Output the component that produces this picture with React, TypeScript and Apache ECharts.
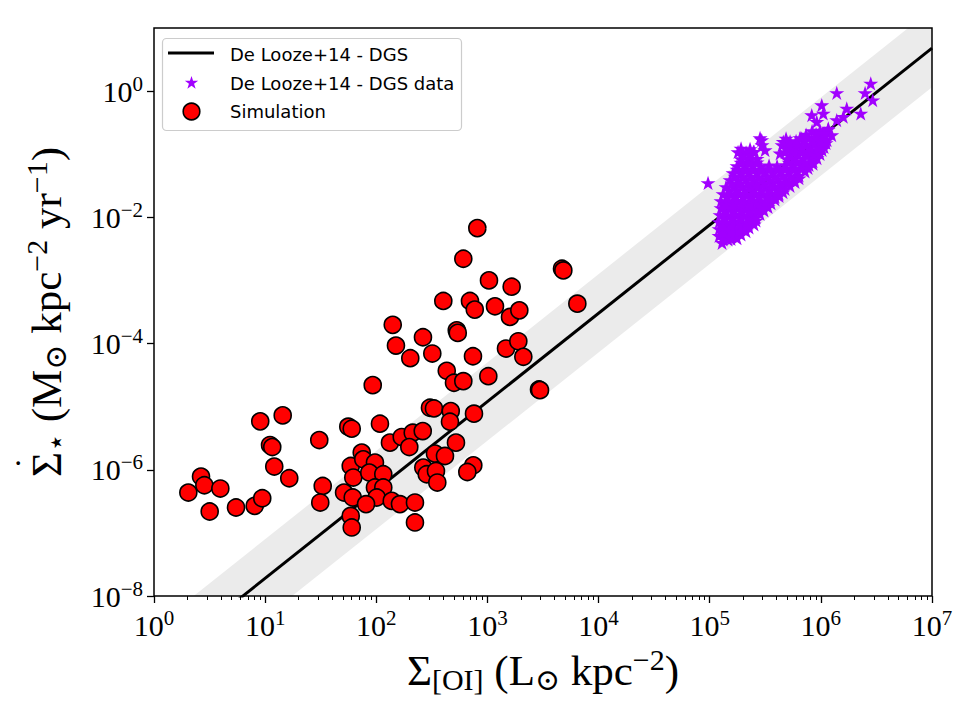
import React, { useEffect, useRef } from 'react';
import * as echarts from 'echarts';

// Axis decades (log10 units)
const xTickExponents = [0, 1, 2, 3, 4, 5, 6, 7];
const yTickExponents = [-8, -6, -4, -2, 0];
const xRange = [0, 7];
const yRange = [-8, 1];

// De Looze+14 (DGS) [OI] relation in log10 space, with its 1-sigma scatter
const fitSlope = 1.4;
const fitIntercept = -9.12;
const fitScatter = 0.62;

// Simulation: [log10 Σ_[OI], log10 Σ̇⋆]
const simulationPoints: [number, number][] = [
  [0.956, -5.233], [1.158, -5.138], [1.044, -5.608], [1.064, -5.64], [1.487, -5.529],
  [1.082, -5.949], [1.217, -6.134], [0.423, -6.108], [0.453, -6.245], [0.309, -6.361],
  [0.597, -6.297], [0.501, -6.661], [0.738, -6.598], [0.906, -6.572], [0.974, -6.451],
  [1.518, -6.256], [1.496, -6.519], [1.71, -6.361], [1.748, -5.317], [1.779, -5.349],
  [2.909, -2.171], [2.783, -2.656], [3.671, -2.814], [3.683, -2.841], [3.014, -2.999],
  [3.218, -3.099], [2.603, -3.325], [2.843, -3.325], [2.886, -3.462], [3.068, -3.41],
  [3.203, -3.578], [3.287, -3.474], [3.809, -3.368], [2.148, -3.704], [2.177, -4.032],
  [2.306, -4.232], [2.42, -3.9], [2.504, -4.158], [2.724, -3.79], [2.733, -3.831],
  [2.87, -4.201], [3.167, -4.079], [3.278, -3.964], [3.323, -4.21], [2.634, -4.432],
  [2.699, -4.621], [2.783, -4.596], [3.008, -4.517], [1.968, -4.659], [3.464, -4.727],
  [3.473, -4.738], [2.483, -5.017], [2.519, -5.028], [2.67, -5.07], [2.663, -5.238],
  [2.033, -5.27], [2.123, -5.57], [2.229, -5.481], [2.328, -5.412], [2.418, -5.387],
  [2.297, -5.64], [2.717, -5.57], [2.528, -5.744], [2.618, -5.782], [2.423, -5.965],
  [2.454, -6.071], [2.537, -6.019], [2.549, -6.202], [1.869, -5.728], [1.77, -5.94],
  [1.883, -5.834], [1.988, -5.886], [1.793, -6.123], [1.937, -6.044], [2.063, -6.071],
  [1.788, -6.439], [1.988, -6.281], [2.063, -6.281], [2.004, -6.439], [1.908, -6.545],
  [2.139, -6.493], [2.213, -6.545], [2.348, -6.519], [1.77, -6.731], [1.779, -6.914],
  [2.348, -6.835], [2.879, -5.111], [2.873, -5.929], [2.819, -6.035],
];

// DGS resolved data: [log10 Σ_[OI], log10 Σ̇⋆]
const dgsPoints: [number, number][] = [
  [5.111, -2.403], [5.165, -2.35],
  [5.084, -2.292], [5.156, -2.3], [5.228, -2.285], [5.282, -2.27],
  [5.084, -2.182], [5.156, -2.19], [5.228, -2.175], [5.3, -2.185], [5.354, -2.16],
  [5.084, -2.071], [5.156, -2.08], [5.228, -2.065], [5.3, -2.075], [5.372, -2.06], [5.417, -2.05],
  [5.093, -1.96], [5.165, -1.97], [5.237, -1.955], [5.309, -1.965], [5.381, -1.95], [5.453, -1.945],
  [5.102, -1.85], [5.174, -1.855], [5.246, -1.845], [5.318, -1.86], [5.39, -1.84], [5.462, -1.85], [5.525, -1.835],
  [5.102, -1.739], [5.174, -1.745], [5.246, -1.735], [5.318, -1.75], [5.39, -1.73], [5.462, -1.74], [5.534, -1.725], [5.588, -1.715],
  [5.12, -1.628], [5.192, -1.635], [5.264, -1.625], [5.336, -1.64], [5.408, -1.62], [5.48, -1.63], [5.552, -1.615], [5.624, -1.625], [5.66, -1.6],
  [5.147, -1.518], [5.219, -1.525], [5.291, -1.515], [5.363, -1.53], [5.435, -1.51], [5.507, -1.52], [5.579, -1.505], [5.651, -1.515], [5.723, -1.5],
  [5.183, -1.407], [5.255, -1.415], [5.327, -1.4], [5.399, -1.42], [5.471, -1.405], [5.543, -1.41], [5.615, -1.395], [5.687, -1.405], [5.759, -1.39], [5.804, -1.38],
  [5.21, -1.296], [5.282, -1.305], [5.354, -1.29], [5.426, -1.3], [5.498, -1.285], [5.57, -1.295], [5.642, -1.28], [5.714, -1.29], [5.786, -1.275], [5.858, -1.27],
  [5.246, -1.186], [5.318, -1.195], [5.39, -1.18], [5.462, -1.19], [5.534, -1.175], [5.606, -1.185], [5.678, -1.17], [5.75, -1.18], [5.822, -1.165], [5.894, -1.17], [5.93, -1.15],
  [5.282, -1.075], [5.354, -1.08], [5.426, -1.07], [5.696, -1.075], [5.768, -1.065], [5.84, -1.07], [5.912, -1.055], [5.966, -1.06],
  [5.255, -0.964], [5.327, -0.97], [5.399, -0.96], [5.678, -0.964], [5.75, -0.955], [5.822, -0.96], [5.894, -0.95], [5.966, -0.945], [6.011, -0.93],
  [5.471, -0.854], [5.651, -0.854], [5.723, -0.845], [5.795, -0.85], [5.867, -0.84], [5.939, -0.845], [6.002, -0.83], [6.047, -0.82],
  [5.453, -0.743], [5.687, -0.75], [5.813, -0.743], [5.885, -0.735], [5.957, -0.74], [6.029, -0.725],
  [5.921, -0.632], [5.993, -0.625], [6.065, -0.61],
  [4.985, -1.455],
  [6.449, 0.122], [6.398, -0.027], [6.467, -0.142], [6.143, -0.027], [6.008, -0.221],
  [6.233, -0.274], [6.359, -0.353], [5.918, -0.379], [6.022, -0.353], [5.963, -0.485],
  [6.143, -0.458], [6.202, -0.406], [6.067, -0.59], [6.098, -0.696], [6.022, -0.696],
  [5.468, -0.775], [5.498, -0.933], [5.393, -0.96], [5.302, -0.985], [5.662, -0.802],
  [5.828, -0.748], [5.918, -0.775], [5.873, -0.985], [5.993, -0.881], [5.752, -0.933],
  [5.633, -0.985],
  [5.12, -2.348], [5.192, -2.34], [5.246, -2.33],
  [5.12, -2.237], [5.192, -2.245], [5.264, -2.23], [5.327, -2.22],
  [5.12, -2.126], [5.192, -2.135], [5.264, -2.12], [5.336, -2.13], [5.399, -2.11],
  [5.129, -2.016], [5.201, -2.025], [5.273, -2.01], [5.345, -2.02], [5.417, -2.0],
  [5.138, -1.905], [5.21, -1.91], [5.282, -1.9], [5.354, -1.915], [5.426, -1.895], [5.489, -1.89],
  [5.138, -1.794], [5.21, -1.8], [5.282, -1.79], [5.354, -1.805], [5.426, -1.785], [5.498, -1.795], [5.552, -1.775],
  [5.156, -1.684], [5.228, -1.69], [5.3, -1.68], [5.372, -1.695], [5.444, -1.675], [5.516, -1.685], [5.588, -1.67], [5.624, -1.66],
  [5.174, -1.573], [5.246, -1.58], [5.318, -1.57], [5.39, -1.585], [5.462, -1.565], [5.534, -1.575], [5.606, -1.56], [5.678, -1.55],
  [5.201, -1.462], [5.273, -1.47], [5.345, -1.46], [5.417, -1.475], [5.489, -1.455], [5.561, -1.465], [5.633, -1.45], [5.705, -1.46], [5.768, -1.44],
  [5.228, -1.352], [5.3, -1.36], [5.372, -1.35], [5.444, -1.365], [5.516, -1.345], [5.588, -1.355], [5.66, -1.34], [5.732, -1.35], [5.804, -1.335],
  [5.246, -1.241], [5.318, -1.25], [5.39, -1.24], [5.462, -1.255], [5.534, -1.235], [5.606, -1.245], [5.678, -1.23], [5.75, -1.24], [5.822, -1.225], [5.885, -1.215],
  [5.282, -1.13], [5.354, -1.14], [5.426, -1.125], [5.714, -1.13], [5.786, -1.12], [5.858, -1.125], [5.93, -1.11],
  [5.291, -1.02], [5.363, -1.025], [5.723, -1.02], [5.795, -1.01], [5.867, -1.015], [5.939, -1.0], [5.993, -0.995],
  [5.282, -0.909], [5.363, -0.915], [5.687, -0.909], [5.759, -0.9], [5.831, -0.905], [5.903, -0.895], [5.975, -0.9], [6.029, -0.885],
  [5.723, -0.798], [5.777, -0.79], [5.849, -0.795], [5.921, -0.785], [5.993, -0.79], [6.056, -0.775],
  [5.867, -0.688], [5.957, -0.68], [6.029, -0.67],
];

const legendLabels = ['De Looze+14 - DGS', 'De Looze+14 - DGS data', 'Simulation'];

const STAR_COLOR = '#a100ff';
const SIM_COLOR = '#ff0000';
const STAR_PATH =
  'path://M100 0 L122.45 69.1 L195.11 69.1 L136.33 111.8 L158.78 180.9 L100 138.2 L41.22 180.9 L63.67 111.8 L4.89 69.1 L77.55 69.1 Z';

const SERIF = "'Liberation Serif', 'DejaVu Serif', serif";
const SANS = "'DejaVu Sans', sans-serif";

// minor ticks at 2..9 x 10^d
const minorTicks: number[] = [];
for (let d = xRange[0]; d < xRange[1]; d++) {
  for (let k = 2; k <= 9; k++) minorTicks.push(d + Math.log10(k));
}

function starPoints(cx: number, cy: number, r: number): number[][] {
  const pts: number[][] = [];
  for (let i = 0; i < 10; i++) {
    const a = (i * Math.PI) / 5;
    const rr = i % 2 === 0 ? r : r * 0.382;
    pts.push([cx + rr * Math.sin(a), cy - rr * Math.cos(a)]);
  }
  return pts;
}

const powLabel = (v: number) => {
  const e = Math.round(v);
  return `{b|10}{e|${e < 0 ? '\u2212' + -e : e}}`;
};

const tickRich = {
  b: { fontFamily: SERIF, fontSize: 30, color: '#000' },
  e: { fontFamily: SERIF, fontSize: 21, color: '#000', padding: [0, 0, 15, 0] },
};

const titleRich = {
  m: { fontFamily: SERIF, fontSize: 43, color: '#000' },
  // time-derivative dot, sitting over the leading Σ
  dot: { fontFamily: SANS, fontSize: 13, color: '#000', align: 'left', lineHeight: 6, padding: [0, 0, 0, 10] },
  sub: { fontFamily: SERIF, fontSize: 30, color: '#000', padding: [18, 0, 0, 0] },
  sup: { fontFamily: SERIF, fontSize: 30, color: '#000', padding: [0, 0, 21, 0] },
};

export default function App() {
  const ref = useRef<HTMLDivElement>(null);

  useEffect(() => {
    if (!ref.current) return;
    const chart = echarts.init(ref.current, undefined, { renderer: 'svg' });

    const lineData = xRange.map((x) => [x, fitSlope * x + fitIntercept]);

    const option: any = {
      animation: false,
      backgroundColor: '#ffffff',
      grid: {
        left: 154,
        right: 28,
        top: 28,
        bottom: 124,
        outerBoundsMode: 'none',
        containLabel: false,
        show: true,
        borderColor: '#000',
        borderWidth: 1.5,
        backgroundColor: 'transparent',
        z: 10,
      },
      xAxis: [
        {
          type: 'value',
          min: xRange[0],
          max: xRange[1],
          interval: 1,
          axisLine: { show: false, onZero: false },
          splitLine: { show: false },
          axisTick: { show: true, length: 7, lineStyle: { color: '#000', width: 1.3 } },
          axisLabel: { margin: 11, formatter: powLabel, rich: tickRich },
          name: '{m|\u03a3}{sub|[OI]}{m| (L}{sub|\u2299}{m| kpc}{sup|\u22122}{m|)}',
          nameLocation: 'middle',
          nameGap: 38,
          nameTextStyle: { rich: titleRich },
        },
        {
          type: 'value',
          min: xRange[0],
          max: xRange[1],
          position: 'bottom',
          axisLine: { show: false, onZero: false },
          splitLine: { show: false },
          axisLabel: { show: false },
          axisTick: {
            show: true,
            length: 4,
            customValues: minorTicks,
            lineStyle: { color: '#000', width: 1 },
          },
        },
      ],
      yAxis: {
        type: 'value',
        min: yRange[0],
        max: yRange[1],
        axisLine: { show: false, onZero: false },
        splitLine: { show: false },
        axisTick: {
          show: true,
          length: 7,
          customValues: yTickExponents,
          lineStyle: { color: '#000', width: 1.3 },
        },
        axisLabel: {
          margin: 11,
          customValues: yTickExponents,
          formatter: powLabel,
          rich: tickRich,
        },
        name:
          '{dot|\u2022}\n{m|\u03a3}{sub|\u22c6}{m| (M}{sub|\u2299}{m| kpc}{sup|\u22122}{m| yr}{sup|\u22121}{m|)}',
        nameLocation: 'middle',
        nameRotate: 90,
        nameGap: 82,
        nameTextStyle: { rich: titleRich },
      },
      series: [
        {
          type: 'custom',
          coordinateSystem: 'cartesian2d',
          xAxisIndex: 0,
          yAxisIndex: 0,
          silent: true,
          z: 1,
          data: [[xRange[0], fitIntercept]],
          renderItem: (params: any, api: any) => {
            const pts = [
              api.coord([xRange[0], fitSlope * xRange[0] + fitIntercept + fitScatter]),
              api.coord([xRange[1], fitSlope * xRange[1] + fitIntercept + fitScatter]),
              api.coord([xRange[1], fitSlope * xRange[1] + fitIntercept - fitScatter]),
              api.coord([xRange[0], fitSlope * xRange[0] + fitIntercept - fitScatter]),
            ];
            const cs = params.coordSys;
            return {
              type: 'polygon',
              shape: { points: pts },
              style: { fill: '#ebebeb' },
              clipPath: {
                type: 'rect',
                shape: { x: cs.x, y: cs.y, width: cs.width, height: cs.height },
              },
            };
          },
        },
        {
          name: legendLabels[0],
          type: 'line',
          xAxisIndex: 0,
          data: lineData,
          symbol: 'none',
          clip: true,
          silent: true,
          z: 2,
          lineStyle: { color: '#000', width: 3 },
        },
        {
          name: legendLabels[1],
          type: 'scatter',
          xAxisIndex: 0,
          data: dgsPoints,
          symbol: STAR_PATH,
          symbolKeepAspect: true,
          symbolSize: 15,
          silent: true,
          z: 3,
          itemStyle: { color: STAR_COLOR, opacity: 1 },
        },
        {
          name: legendLabels[2],
          type: 'scatter',
          xAxisIndex: 0,
          data: simulationPoints,
          symbol: 'circle',
          symbolSize: 17,
          silent: true,
          z: 4,
          itemStyle: { color: SIM_COLOR, borderColor: '#000', borderWidth: 1.6, opacity: 1 },
        },
      ],
      graphic: [
        {
          type: 'rect',
          z: 100,
          shape: { x: 162.5, y: 38.5, width: 299, height: 92, r: 4 },
          style: { fill: 'rgba(255,255,255,0.85)', stroke: '#cccccc', lineWidth: 1.2 },
        },
        {
          type: 'line',
          z: 101,
          shape: { x1: 168, y1: 53, x2: 214, y2: 53 },
          style: { stroke: '#000', lineWidth: 3.2 },
        },
        {
          type: 'polygon',
          z: 101,
          shape: { points: starPoints(191.5, 83, 7) },
          style: { fill: STAR_COLOR },
        },
        {
          type: 'circle',
          z: 101,
          shape: { cx: 191.5, cy: 111.5, r: 8.3 },
          style: { fill: SIM_COLOR, stroke: '#000', lineWidth: 1.6 },
        },
        ...legendLabels.map((label, i) => ({
          type: 'text',
          z: 101,
          x: 230,
          y: [54, 83, 111.5][i],
          style: {
            text: label,
            fontFamily: SANS,
            fontSize: 18,
            fill: '#000',
            textVerticalAlign: 'middle',
            verticalAlign: 'middle',
          },
        })),
      ],
    };

    chart.setOption(option);
    return () => chart.dispose();
  }, []);

  return (
    <div
      ref={ref}
      style={{ position: 'fixed', left: 0, top: 0, width: 960, height: 720, background: '#fff' }}
    />
  );
}
